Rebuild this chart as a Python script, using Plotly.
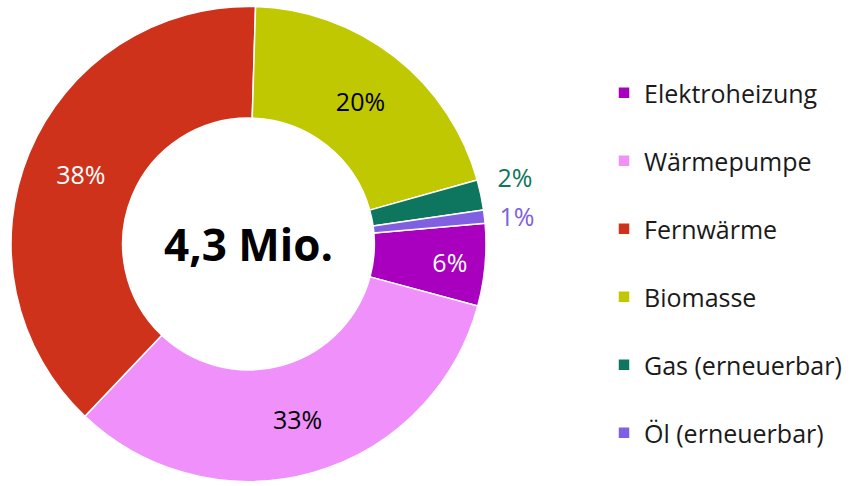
import plotly.graph_objects as go

labels = ["Elektroheizung", "Wärmepumpe", "Fernwärme", "Biomasse", "Gas (erneuerbar)", "Öl (erneuerbar)"]
values = [5.6, 32.9, 38.4, 20.2, 2.05, 0.9]
colors = ["#A800BE", "#F090FA", "#CF321B", "#BFC800", "#0E765E", "#8060E0"]
text_colors = ["#FFFFFF", "#000000", "#FFFFFF", "#000000", "#0E765E", "#8060E0"]
text_positions = ["inside", "inside", "inside", "inside", "outside", "outside"]
center_label = "4,3 Mio."

FONT = "Open Sans"
W, H = 863, 486
cx, cy, R = 248.5, 244.0, 237.5
domain = dict(x=[(cx - R) / W, (cx + R) / W], y=[(H - cy - R) / H, (H - cy + R) / H])

# legend labels carry an empty second line to give the Excel-like row spacing
legend_labels = [l + "<br> " for l in labels]

pct = "%{percent:.0%}"
# main donut: all labels except the last tiny slice (the small "Gas" label is lifted by an empty 2nd line)
tmpl_main = [pct, pct, pct, pct, pct + "<br> ", ""]
# overlay (transparent) donut that only carries the label of the last tiny slice
tmpl_overlay = ["", "", "", "", "", "\u00a0" + pct]

common = dict(
    labels=legend_labels,
    values=values,
    sort=False,
    direction="clockwise",
    rotation=85,
    hole=0.53,
    textposition=text_positions,
    insidetextorientation="horizontal",
    domain=domain,
)

fig = go.Figure()
fig.add_trace(go.Pie(
    **common,
    marker=dict(colors=colors, line=dict(color="#FFFFFF", width=1.5)),
    texttemplate=tmpl_main,
    textfont=dict(family=FONT, size=25, color=text_colors),
    hovertemplate="%{label}: %{percent}<extra></extra>",
))
fig.add_trace(go.Pie(
    **common,
    marker=dict(colors=["rgba(0,0,0,0)"] * len(values), line=dict(width=0)),
    texttemplate=tmpl_overlay,
    textfont=dict(family=FONT, size=25, color=text_colors),
    showlegend=False,
    hoverinfo="skip",
))

fig.add_annotation(
    text="<b>" + center_label + "</b>",
    x=cx / W, y=1 - cy / H, xref="paper", yref="paper",
    showarrow=False, xanchor="center", yanchor="middle",
    font=dict(family=FONT, size=44, color="#000000"),
)

fig.update_layout(
    width=W, height=H,
    margin=dict(l=0, r=0, t=0, b=0, autoexpand=False),
    paper_bgcolor="#FFFFFF",
    plot_bgcolor="#FFFFFF",
    font=dict(family=FONT, color="#1A1A1A"),
    legend=dict(
        x=604 / W, y=1 - 70 / H, xanchor="left", yanchor="top",
        valign="top",
        font=dict(family=FONT, size=25, color="#1A1A1A"),
        bgcolor="rgba(0,0,0,0)",
    ),
    showlegend=True,
)

fig.write_html(
    "out.html",
    config={"displayModeBar": False},
    post_script="document.body.style.margin='0px'; document.body.style.overflow='hidden';",
)
